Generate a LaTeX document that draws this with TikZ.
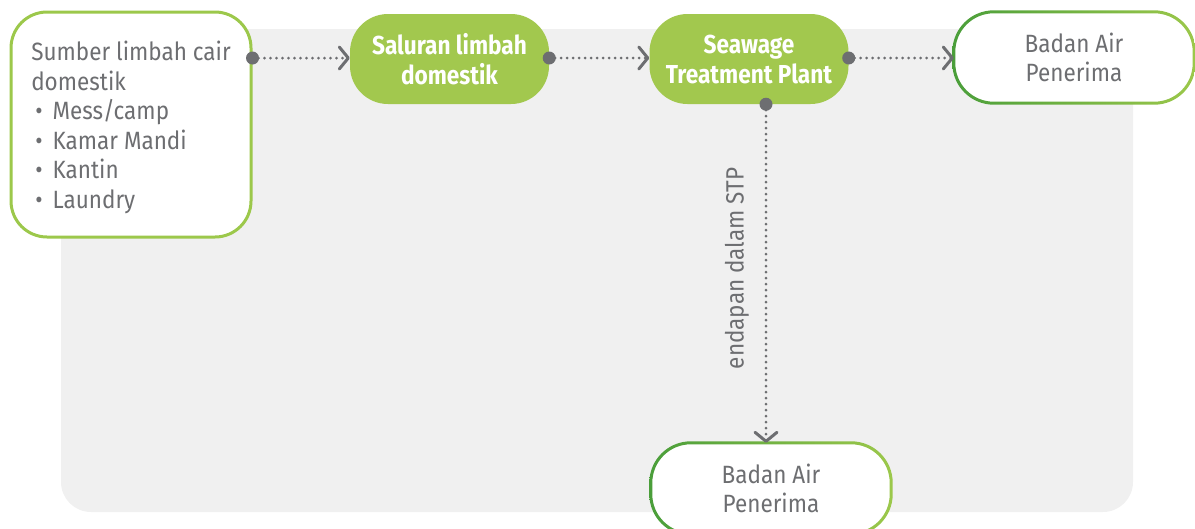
\documentclass[tikz,border=0pt]{standalone}
\usepackage{fontspec}
\setmainfont{Fira Sans}
\newfontfamily\regfont[FakeStretch=0.9]{Fira Sans}
\newfontfamily\condfont[FakeStretch=0.87]{Fira Sans}
\usetikzlibrary{arrows.meta}
\definecolor{tgray}{HTML}{6D6E71}
\definecolor{bggray}{HTML}{F0F0F0}
\definecolor{lgreen}{HTML}{9CC84B}
\definecolor{pgreen}{HTML}{A2C84E}
\definecolor{dgreen}{HTML}{4A9E3A}
\tikzset{
  srcbox/.style={draw=lgreen, line width=3pt, fill=white, rounded corners=36pt,
    minimum width=240pt, minimum height=225pt, text=tgray, align=left,
    font=\regfont\fontsize{25}{29.5}\selectfont},
  procbox/.style={fill=pgreen, rounded corners=38pt, minimum width=199pt,
    minimum height=90pt, text=white, align=center,
    font=\condfont\bfseries\fontsize{26}{30}\selectfont},
  sinkbox/.style={fill=white, rounded corners=40pt, minimum width=240pt,
    minimum height=91pt, text=tgray, align=center,
    font=\regfont\fontsize{25}{29.5}\selectfont},
  flow/.style={draw=tgray, line width=3pt, line cap=round,
    dash pattern=on 0pt off 6pt,
    -{Straight Barb[length=9pt, width=22pt, line width=3pt, round]}},
  enddot/.style={fill=tgray},
  ring/.style={left color=dgreen, right color=lgreen, even odd rule}
}
\newcommand{\itm}[1]{\hspace*{4pt}\textbullet\hspace{10pt}#1}
\begin{document}
\begin{tikzpicture}[x=1pt, y=-1pt]
  \useasboundingbox (0,0) rectangle (1195,528);
  % grey backdrop
  \fill[bggray, rounded corners=30pt] (61,29) rectangle (1133,512);

  % nodes
  \node[srcbox] (src) at (131,124.5) {\rule{0pt}{25pt}Sumber limbah cair\\domestik\\
    \itm{Mess/camp}\\\itm{Kamar Mandi}\\\itm{Kantin}\\\itm{Laundry}};
  \node[procbox] (sal) at (449.5,59) {Saluran limbah\\domestik};
  \node[procbox] (stp) at (749,59) {Seawage\\Treatment Plant};
  \node[sinkbox] (out1) at (1074,57.5) {Badan Air\\Penerima};
  \node[sinkbox] (out2) at (771,488.5) {Badan Air\\Penerima};

  % gradient outlines of the receiving-water boxes
  \foreach \n in {out1,out2} {
    \shade[ring]
      [rounded corners=41.5pt]
      ([shift={(-1.5,-1.5)}]\n.north west) rectangle ([shift={(1.5,1.5)}]\n.south east)
      [rounded corners=38.5pt]
      ([shift={(1.5,1.5)}]\n.north west) rectangle ([shift={(-1.5,-1.5)}]\n.south east);
  }

  % connectors
  \draw[flow] (src.east |- 0,58) -- (sal.west |- 0,58);
  \draw[flow] (sal.east |- 0,58) -- (stp.west |- 0,58);
  \draw[flow] (stp.east |- 0,58) -- (out1.west |- 0,58);
  \draw[flow] ([xshift=17pt]stp.south) -- node[pos=0.485, rotate=90, anchor=south,
      inner sep=0pt, outer sep=17pt, text=tgray,
      font=\regfont\fontsize{25}{29.5}\selectfont] (lbl) {endapan dalam STP}
    ([xshift=-5pt]out2.north);

  % connector start dots
  \fill[enddot] (src.east |- 0,58) circle (6.5pt);
  \fill[enddot] (sal.east |- 0,58) circle (6.5pt);
  \fill[enddot] (stp.east |- 0,58) circle (6.5pt);
  \fill[enddot] ([xshift=17pt]stp.south) circle (6.5pt);
\end{tikzpicture}
\end{document}
